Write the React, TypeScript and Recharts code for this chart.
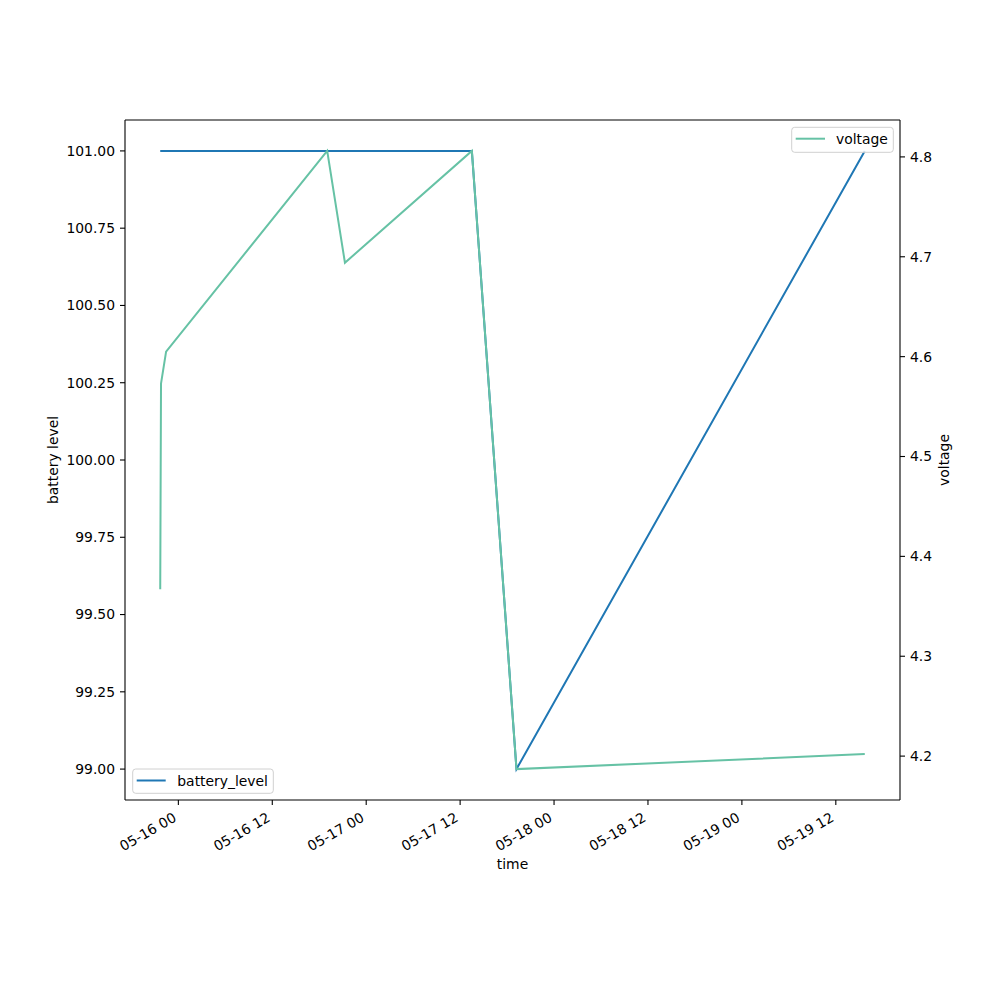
import { LineChart, Line, XAxis, YAxis } from 'recharts';

// sample times (UTC)
const times = [
  '2024-05-15T21:41',
  '2024-05-15T21:47',
  '2024-05-15T22:26',
  '2024-05-16T19:01',
  '2024-05-16T21:17',
  '2024-05-17T13:30',
  '2024-05-17T19:12',
  '2024-05-19T15:42',
];
const batteryLevel = [101, 101, 101, 101, 101, 101, 99, 101];
const voltage = [4.367, 4.573, 4.605, 4.806, 4.694, 4.806, 4.187, 4.202];

const xTickLabels = ['05-16 00', '05-16 12', '05-17 00', '05-17 12', '05-18 00', '05-18 12', '05-19 00', '05-19 12'];
const batteryTicks = [99, 99.25, 99.5, 99.75, 100, 100.25, 100.5, 100.75, 101];
const voltageTicks = [4.2, 4.3, 4.4, 4.5, 4.6, 4.7, 4.8];

const toMs = (s: string) => Date.parse(s + ':00Z');

const data = times.map((t, i) => ({
  t: toMs(t),
  battery_level: batteryLevel[i],
  voltage: voltage[i],
}));

const xTicks = xTickLabels.map((l) => Date.parse(`2024-${l.slice(0, 5)}T${l.slice(6)}:00:00Z`));

// matplotlib-style 5% margins
const pad = (lo: number, hi: number): [number, number] => {
  const r = hi - lo;
  return [lo - 0.05 * r, hi + 0.05 * r];
};
const tMin = Math.min(...data.map((d) => d.t));
const tMax = Math.max(...data.map((d) => d.t));
const xDomain = pad(tMin, tMax);
const batteryDomain = pad(Math.min(...batteryLevel), Math.max(...batteryLevel));
const voltageDomain = pad(Math.min(...voltage), Math.max(...voltage));

const FONT = 'DejaVu Sans, sans-serif';
const FS = 13.9;
const BLUE = '#1f77b4';
const GREEN = '#66c2a5';

function TimeTick(props: any) {
  const { x, y, payload } = props;
  const idx = xTicks.indexOf(payload.value);
  const label = idx >= 0 ? xTickLabels[idx] : '';
  const ax = x - 3.5;
  const ay = y + 6;
  return (
    <text
      x={ax}
      y={ay}
      transform={`rotate(-30 ${ax} ${ay})`}
      textAnchor="end"
      dominantBaseline="central"
      fontFamily={FONT}
      fontSize={FS}
      fill="#000"
    >
      {label}
    </text>
  );
}

const tickStyle = { fontFamily: FONT, fontSize: FS, fill: '#000' };
const axisLine = { stroke: '#000', strokeWidth: 1.1 };

export default function App() {
  return (
    <div style={{ position: 'absolute', left: 0, top: 0, width: 1000, height: 1000, background: '#fff' }}>
      <LineChart
        width={1000}
        height={1000}
        data={data}
        margin={{ top: 120, right: 40, bottom: 140, left: 65 }}
      >
        <XAxis
          dataKey="t"
          type="number"
          domain={xDomain}
          allowDataOverflow
          ticks={xTicks}
          tick={<TimeTick />}
          tickSize={5}
          tickMargin={5}
          height={60}
          axisLine={axisLine}
          tickLine={axisLine}
          interval={0}
        />
        <YAxis
          yAxisId="left"
          domain={batteryDomain}
          allowDataOverflow
          ticks={batteryTicks}
          tickFormatter={(v: number) => v.toFixed(2)}
          tick={tickStyle}
          tickSize={5}
          tickMargin={5}
          width={60}
          axisLine={axisLine}
          tickLine={axisLine}
          interval={0}
        />
        <YAxis
          yAxisId="right"
          orientation="right"
          domain={voltageDomain}
          allowDataOverflow
          ticks={voltageTicks}
          tickFormatter={(v: number) => v.toFixed(1)}
          tick={tickStyle}
          tickSize={5}
          tickMargin={5}
          width={60}
          axisLine={axisLine}
          tickLine={axisLine}
          interval={0}
        />
        <Line
          yAxisId="left"
          dataKey="battery_level"
          type="linear"
          stroke={BLUE}
          strokeWidth={2}
          dot={false}
          activeDot={false}
          isAnimationActive={false}
        />
        <Line
          yAxisId="right"
          dataKey="voltage"
          type="linear"
          stroke={GREEN}
          strokeWidth={2}
          dot={false}
          activeDot={false}
          isAnimationActive={false}
        />
      </LineChart>

      <svg
        width={1000}
        height={1000}
        style={{ position: 'absolute', left: 0, top: 0, pointerEvents: 'none' }}
        fontFamily={FONT}
        fontSize={FS}
      >
        {/* top spine */}
        <line x1={125} y1={120} x2={900} y2={120} stroke="#000" strokeWidth={1.1} />

        {/* axis titles */}
        <text x={53} y={460} transform="rotate(-90 53 460)" textAnchor="middle" dominantBaseline="central" fill="#000">
          battery level
        </text>
        <text x={944} y={460} transform="rotate(-90 944 460)" textAnchor="middle" dominantBaseline="central" fill="#000">
          voltage
        </text>
        <text x={512.5} y={864} textAnchor="middle" dominantBaseline="central" fill="#000">
          time
        </text>

        {/* battery_level legend, lower left */}
        <rect x={132.7} y={769} width={140.6} height={24.3} rx={3} fill="#fff" fillOpacity={0.8} stroke="#d0d0d0" />
        <line x1={136.7} y1={780.5} x2={165.7} y2={780.5} stroke={BLUE} strokeWidth={2} />
        <text x={177.3} y={780.5} dominantBaseline="central" fill="#000">battery_level</text>

        {/* voltage legend, upper right */}
        <rect x={791.7} y={127.3} width={101.6} height={25} rx={3} fill="#fff" fillOpacity={0.8} stroke="#d0d0d0" />
        <line x1={795.7} y1={138.7} x2={825} y2={138.7} stroke={GREEN} strokeWidth={2} />
        <text x={836} y={138.7} dominantBaseline="central" fill="#000">voltage</text>
      </svg>
    </div>
  );
}
